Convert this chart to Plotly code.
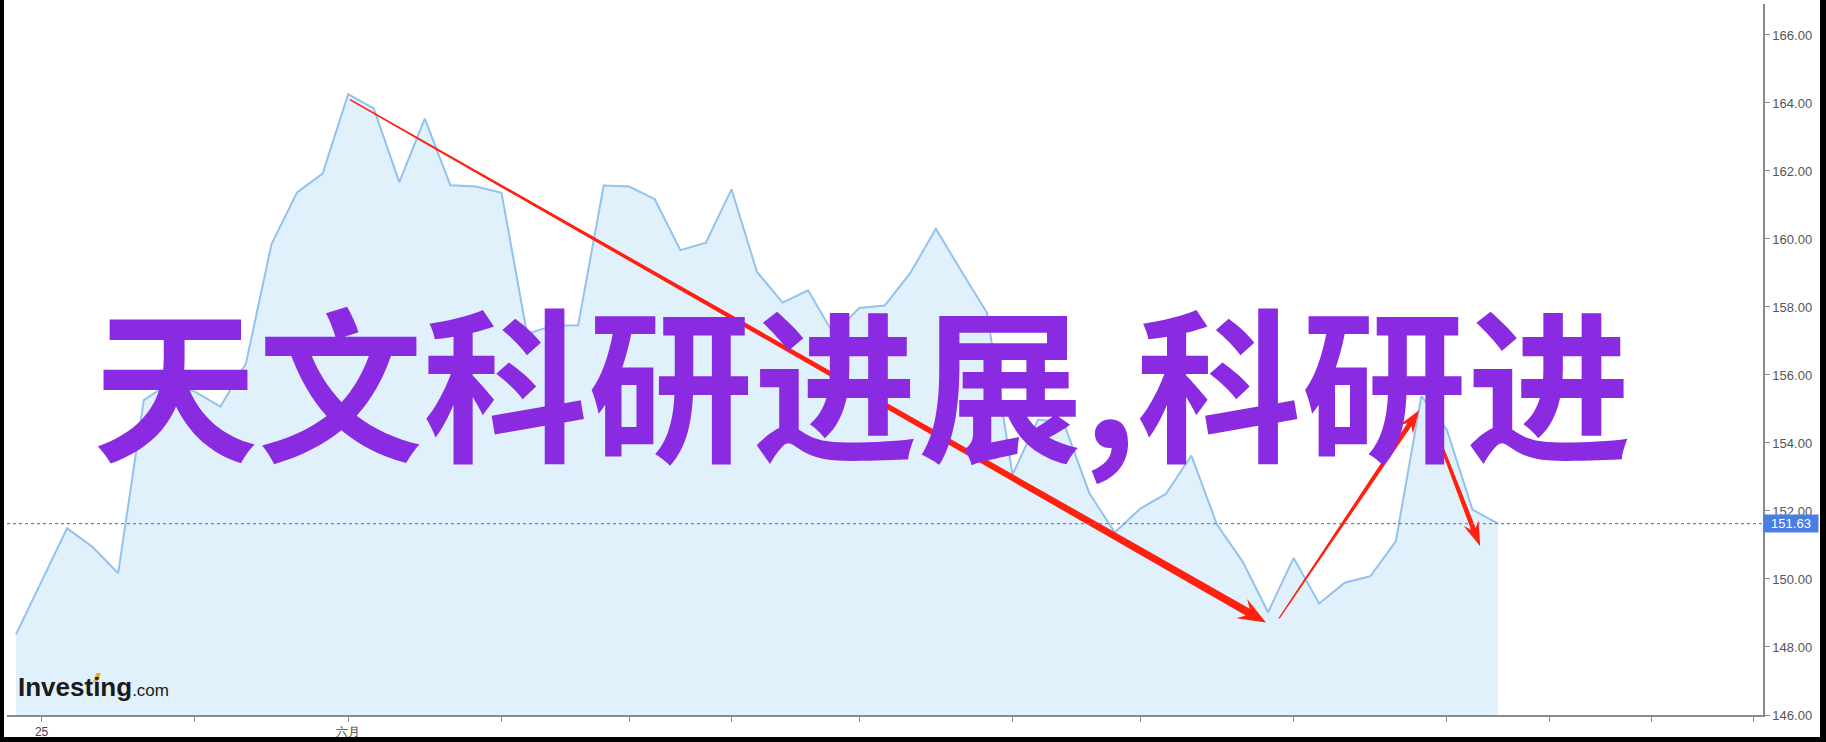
import plotly.graph_objects as go

# ---- data ----
prices = [148.37, 149.95, 151.49, 150.94, 150.17, 155.26, 155.75, 155.51, 155.07, 156.34,
          159.85, 161.37, 161.92, 164.26, 163.84, 161.67, 163.54, 161.58, 161.54, 161.36,
          157.21, 157.45, 157.46, 161.57, 161.54, 161.17, 159.67, 159.89, 161.46, 159.03,
          158.13, 158.49, 157.20, 157.97, 158.04, 159.00, 160.30, 159.05, 157.83, 153.07,
          154.69, 154.60, 152.53, 151.37, 152.07, 152.50, 153.63, 151.60, 150.52, 149.02,
          150.62, 149.28, 149.89, 150.08, 151.11, 155.38, 154.38, 152.04, 151.63]
days = list(range(len(prices)))
last_price = 151.63
x_tick_pos = [1, 7, 13, 19, 24, 28, 33, 39, 44, 50, 56, 60, 64, 68]
x_tick_text = ["25", "", "六月", "", "", "", "", "", "", "", "", "", "", ""]
y_ticks = [146, 148, 150, 152, 154, 156, 158, 160, 162, 164, 166]
title_text = "天文科研进展,科研进"

# annotation arrows: (x_start, y_start, x_end, y_end) in data units
arrows = [(13.07, 164.10, 48.92, 148.72),
          (49.43, 148.84, 54.91, 154.96),
          (55.66, 154.16, 57.30, 150.96)]
arrow_widths = [(1.5, 8, 22, 28), (1.2, 5, 16, 23), (3, 5, 16, 25)]

# ---- layout geometry ----
W, H = 1826, 742
ML, MR, MT, MB = 7, 63, 4, 27
PW, PH = W - ML - MR, H - MT - MB
X0, X1 = -0.352, 68.37
Y0, Y1 = 146.0, 166.91


def to_px(x, y):
    return (ML + (x - X0) / (X1 - X0) * PW, MT + (Y1 - y) / (Y1 - Y0) * PH)


def to_data(px, py):
    return (X0 + (px - ML) / PW * (X1 - X0), Y1 - (py - MT) / PH * (Y1 - Y0))


def px_paper(px, py):
    return ((px - ML) / PW, (H - MB - py) / PH)


fig = go.Figure()
fig.add_trace(go.Scatter(x=days, y=prices, mode="lines", fill="tozeroy",
                         line=dict(color="#92c2ee", width=2),
                         fillcolor="#e1f1fb", hoverinfo="skip"))

# tapered arrows
for (xs, ys, xe, ye), (w0, w1, hw, hl) in zip(arrows, arrow_widths):
    sx, sy = to_px(xs, ys)
    ex, ey = to_px(xe, ye)
    dx, dy = ex - sx, ey - sy
    L = (dx * dx + dy * dy) ** 0.5
    ux, uy = dx / L, dy / L
    nx, ny = -uy, ux
    bx, by = ex - ux * hl, ey - uy * hl
    nbx, nby = ex - ux * hl * 0.75, ey - uy * hl * 0.75
    pts = [(sx + nx * w0 / 2, sy + ny * w0 / 2),
           (nbx + nx * w1 / 2, nby + ny * w1 / 2),
           (bx + nx * hw / 2, by + ny * hw / 2),
           (ex, ey),
           (bx - nx * hw / 2, by - ny * hw / 2),
           (nbx - nx * w1 / 2, nby - ny * w1 / 2),
           (sx - nx * w0 / 2, sy - ny * w0 / 2)]
    d = [to_data(*p) for p in pts]
    fig.add_trace(go.Scatter(x=[p[0] for p in d] + [d[0][0]], y=[p[1] for p in d] + [d[0][1]],
                             mode="lines", fill="toself", fillcolor="#ff2010",
                             line=dict(width=0, color="#ff2010"), hoverinfo="skip"))

# last price dotted line
fig.add_hline(y=last_price, line=dict(color="#4f86ec", width=1.2, dash="dot"))

annotations = []
# last price tag
annotations.append(dict(xref="paper", yref="y", x=1.0, y=last_price, xanchor="left", yanchor="middle",
                        text=f"{last_price:.2f}", showarrow=False, bgcolor="#4a7ee3",
                        font=dict(family="Liberation Sans, Arial", size=13, color="white"),
                        borderpad=1, width=52, align="center"))
# big title
tx, ty = px_paper(91, 377)
annotations.append(dict(xref="paper", yref="paper", x=tx, y=ty, xanchor="left", yanchor="middle",
                        text=title_text, showarrow=False,
                        font=dict(family="Noto Sans CJK SC", size=165, color="#8a2be2", weight="bold")))
# logo
lx, ly = px_paper(16, 687)
annotations.append(dict(xref="paper", yref="paper", x=lx, y=ly, xanchor="left", yanchor="middle",
                        text="<b>Investing</b><span style='font-size:17px'>.com</span>",
                        showarrow=False,
                        font=dict(family="Liberation Sans, Arial", size=26, color="#1b1b1b")))

shapes = []
# black frame around the picture
for (a, b, c, d) in [(0, 0, W, 3), (0, H - 5, W, H), (0, 0, 4, H), (W - 6, 0, W, H)]:
    x0p, y0p = px_paper(a, b)
    x1p, y1p = px_paper(c, d)
    shapes.append(dict(type="rect", xref="paper", yref="paper", x0=x0p, x1=x1p, y0=y0p, y1=y1p,
                       fillcolor="black", line=dict(width=0), layer="above"))
# orange accent of the logo
acc = [px_paper(*p) for p in [(93, 682), (97.5, 682), (101, 673), (96.5, 673)]]
shapes.append(dict(type="path", xref="paper", yref="paper",
                   path="M " + " L ".join(f"{a:.5f},{b:.5f}" for a, b in acc) + " Z",
                   fillcolor="#f5a623", line=dict(width=0), layer="above"))

fig.update_layout(
    width=W, height=H, margin=dict(l=ML, r=MR, t=MT, b=MB),
    paper_bgcolor="white", plot_bgcolor="white", showlegend=False,
    annotations=annotations, shapes=shapes,
    xaxis=dict(range=[X0, X1], tickmode="array", tickvals=x_tick_pos, ticktext=x_tick_text,
               showgrid=False, zeroline=False, showline=True, linecolor="#8a8a8a", linewidth=1.5,
               ticks="outside", ticklen=5, tickcolor="#8a8a8a",
               tickfont=dict(family="Liberation Sans, Arial", size=12, color="#444")),
    yaxis=dict(range=[Y0, Y1], side="right", tickmode="array", tickvals=y_ticks,
               ticktext=[f"{v:.2f}" for v in y_ticks],
               showgrid=False, zeroline=False, showline=True, linecolor="#8a8a8a", linewidth=1.5,
               ticks="outside", ticklen=5, tickcolor="#8a8a8a",
               tickfont=dict(family="Liberation Sans, Arial", size=13, color="#555")),
)

fig.write_html("out.html", config={"displayModeBar": False},
               post_script="document.body.style.margin='0';document.body.style.overflow='hidden';")
